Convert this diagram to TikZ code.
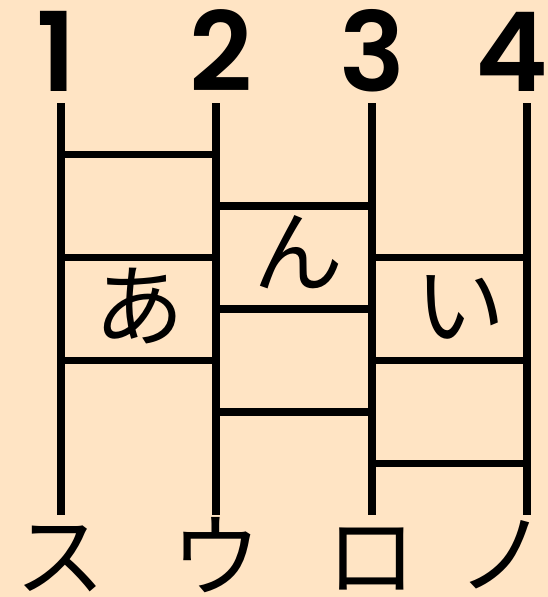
\documentclass[tikz,border=0pt]{standalone}
\usepackage{fontspec}
\setmainfont{Noto Sans CJK JP}
\newfontfamily\numfont{Poppins SemiBold}
\usepackage{xcolor}
\definecolor{paper}{RGB}{255,228,196}

\begin{document}
\begin{tikzpicture}[x=1pt,y=-1pt,
  rail/.style={line width=7.5pt},
  rung/.style={line width=7.5pt},
  numlabel/.style={font=\numfont\fontsize{110}{110}\selectfont,inner sep=0pt,
    text height=76pt,text depth=0pt,anchor=base},
  kanalabel/.style={font=\fontsize{90}{90}\selectfont,inner sep=0pt},
  reslabel/.style={kanalabel,text height=66pt,text depth=4pt,anchor=base}]
  \fill[paper] (0,0) rectangle (548,597);
  \useasboundingbox (0,0) rectangle (548,597);
  % points on the four rails, level 0 = top
  \foreach \c/\xx in {1/61,2/216,3/372,4/527}
    \foreach \k in {0,...,8}
      \coordinate (p\c-\k) at (\xx,{103+51.5*\k});
  \foreach \c in {1,...,4}
    \draw[rail] (p\c-0) -- (p\c-8);
  % rungs
  \foreach \c/\k in {1/1,1/3,1/5,2/2,2/4,2/6,3/3,3/5,3/7}{
    \pgfmathtruncatemacro{\d}{\c+1}
    \draw[rung] (p\c-\k) -- (p\d-\k);
  }
  % numbers
  \node[numlabel] (n1) at (56,91.5) {1};
  \node[numlabel] (n2) at (221,91.5) {2};
  \node[numlabel] (n3) at (372,91.5) {3};
  \node[numlabel] (n4) at (512,91.5) {4};
  % kana between rails
  \node[kanalabel] (a) at (139,306) {あ};
  \node[kanalabel] (n) at (298,252) {ん};
  \node[kanalabel] (i) at (460,307) {い};
  % results
  \node[reslabel] (s) at (60,589) {ス};
  \node[reslabel] (u) at (216,589) {ウ};
  \node[reslabel] (ro) at (371,589) {ロ};
  \node[reslabel] (no) at (502,587) {ノ};
\end{tikzpicture}
\end{document}
